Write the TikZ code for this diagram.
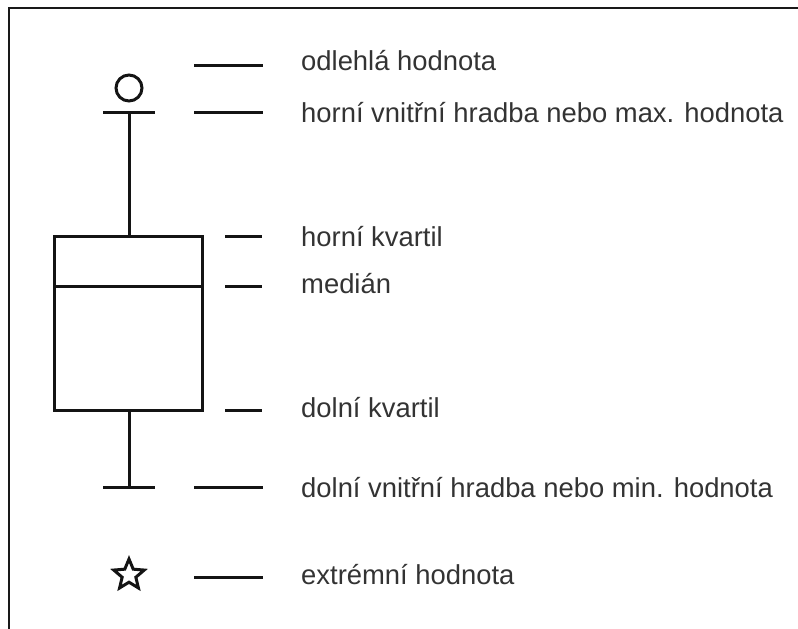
\documentclass[tikz,border=0pt]{standalone}
\usepackage{fontspec}
\setmainfont{Liberation Sans}
\usetikzlibrary{calc}
\begin{document}
\begin{tikzpicture}[x=1pt,y=-1pt,
  stroke/.style={draw=black!92,line width=3pt},
  longdash/.style={stroke},
  shortdash/.style={stroke},
  lbl/.style={anchor=base west,inner sep=0pt,
    font=\fontsize{27.4}{30}\selectfont,text=black!80}]
\useasboundingbox (0,0) rectangle (798,629);
\clip (0,0) rectangle (798,629);
% frame
\draw[draw=black!90,line width=2.6pt] (9,660) -- (9,8) -- (830,8);

% box with median
\draw[stroke] (54,236) rectangle (202,410.5);
\draw[stroke] (54,286) -- (202,286);
% whiskers and caps
\draw[stroke] (129,236) -- (129,112);
\draw[stroke] (103,112) -- (155,112);
\draw[stroke] (129,410.5) -- (129,487);
\draw[stroke] (103,487) -- (155,487);
% outlier
\coordinate (out) at (129,88);
\draw[stroke] (out) circle (13);
% extreme value, drawn as a five-pointed star
\coordinate (ext) at (129,575);
\draw[stroke,line join=miter]
  ($(ext)+(-90:16)$)
  \foreach \k in {0,...,4} {
    -- ($(ext)+(-54+72*\k:7.2)$) -- ($(ext)+(-18+72*\k:16)$)
  } -- cycle;

% legend dashes
\foreach \y in {65,112,487,577} \draw[longdash] (194,\y) -- (263,\y);
\foreach \y in {236,286,410.5} \draw[shortdash] (225,\y) -- (262,\y);

% legend texts
\node[lbl] (t1) at (301,70)  {odlehlá hodnota};
\node[lbl] (t2) at (301,122) {horní vnitřní hradba nebo max. hodnota};
\node[lbl] (t3) at (301,246) {horní kvartil};
\node[lbl] (t4) at (301,293) {medián};
\node[lbl] (t5) at (301,417) {dolní kvartil};
\node[lbl] (t6) at (301,497) {dolní vnitřní hradba nebo min. hodnota};
\node[lbl] (t7) at (301,584) {extrémní hodnota};
\end{tikzpicture}
\end{document}
